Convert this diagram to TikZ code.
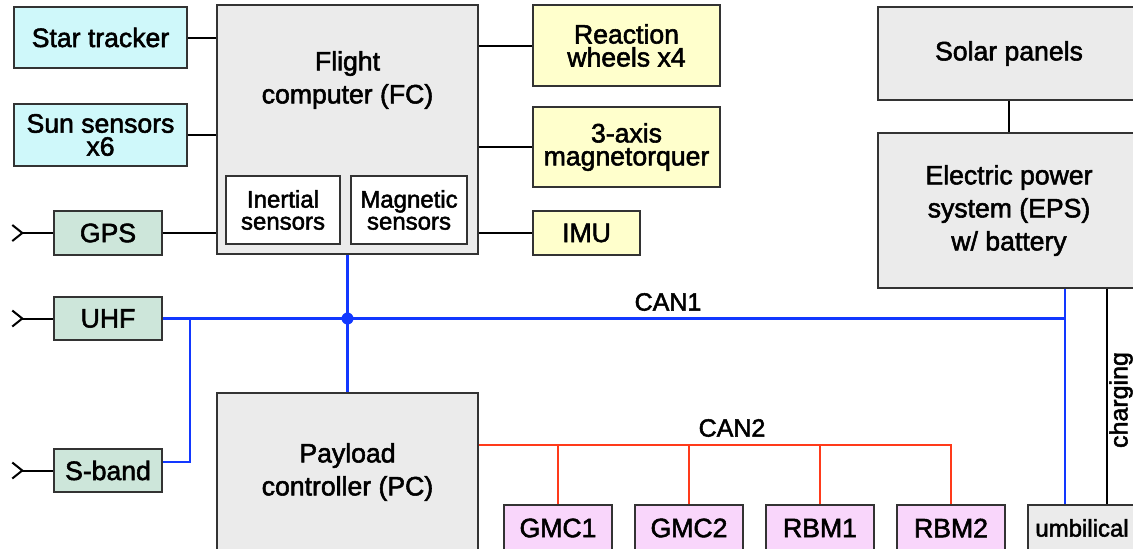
\documentclass[tikz,border=0pt]{standalone}
\usepackage{fontspec}
\setmainfont{Liberation Sans}[FakeBold=2]
\usepackage{xcolor}
\usepackage{tikz}
\usetikzlibrary{positioning, arrows.meta, calc}
\definecolor{edge}{HTML}{333333}
\definecolor{unitbg}{HTML}{EBEBEB}
\definecolor{sensorbg}{HTML}{CFF8FA}
\definecolor{radiobg}{HTML}{CDE6DA}
\definecolor{actbg}{HTML}{FFFFCC}
\definecolor{payloadbg}{HTML}{F9D6FB}
\definecolor{canone}{HTML}{1238FF}
\definecolor{cantwo}{HTML}{FF3A1A}
\tikzset{
  box/.style 2 args={
    draw=edge,
    line width=0.7pt,
    fill=unitbg,
    minimum width=#1*0.5pt,
    minimum height=#2*0.5pt,
    inner sep=0pt,
    align=center,
    font=\fontsize{13.3}{16.5}\selectfont
  },
  boxtext/.style={align=center, inner sep=0pt, font=\fontsize{13.3}{16.5}\selectfont},
  tight/.style={font=\fontsize{13.3}{11.5}\selectfont},
  smalltext/.style={font=\fontsize{12}{11}\selectfont},
  sensor/.style={fill=sensorbg},
  radio/.style={fill=radiobg},
  actuator/.style={fill=actbg},
  payload/.style={fill=payloadbg},
  inside/.style={fill=white, smalltext},
  wire/.style={line width=1pt, black},
  antenna/.style={wire, {Straight Barb[reversed, length=5pt, width=8pt, line width=1pt]}-},
  can1/.style={line width=1.3pt, color=canone},
  can2/.style={line width=1.3pt, color=cantwo},
  buslabel/.style={inner sep=0pt, font=\fontsize{12.5}{14}\selectfont}
}
\begin{document}
\begin{tikzpicture}[x=0.5pt, y=-0.5pt]
  \useasboundingbox (0,0) rectangle (1133,548);
  \clip (0,0) rectangle (1133,548);

  % attitude sensors and radios
  \node[box={173}{61}, sensor] (star) at (100.5,37.5) {Star tracker};
  \node[box={173}{62}, sensor, tight] (sun) at (100.5,135) {Sun sensors\\x6};
  \node[box={108}{44}, radio] (gps) at (108,233) {GPS};
  \node[box={108}{43}, radio] (uhf) at (108,318.5) {UHF};
  \node[box={108}{43}, radio] (sband) at (108,470.5) {S-band};

  % flight computer
  \node[box={261}{249}] (fc) at (347.5,129.5) {};
  \node[boxtext] (fctext) at (347.5,80) {Flight\\computer (FC)};
  \node[box={114}{68}, inside] (inertial) at (283,210) {Inertial\\sensors};
  \node[box={116}{68}, inside] (magnetic) at (409,210) {Magnetic\\sensors};

  % actuators
  \node[box={187}{81}, actuator, tight] (rw) at (626.5,45.5) {Reaction\\wheels x4};
  \node[box={187}{80}, actuator, tight] (mtq) at (626.5,147) {3-axis\\magnetorquer};
  \node[box={107}{44}, actuator] (imu) at (586.5,233) {IMU};

  % power
  \node[box={262}{93}] (solar) at (1009,53.5) {Solar panels};
  \node[box={262}{155}] (eps) at (1009,210.5) {Electric power\\system (EPS)\\w/ battery};

  % payload
  \node[box={261}{158}] (pc) at (347.5,472) {Payload\\controller (PC)};
  \node[box={108}{46}, payload] (gmc1) at (558,528) {GMC1};
  \node[box={108}{46}, payload, right=10.8pt of gmc1] (gmc2) {GMC2};
  \node[box={108}{46}, payload, right=10.8pt of gmc2] (rbm1) {RBM1};
  \node[box={108}{46}, payload, right=10.8pt of rbm1] (rbm2) {RBM2};
  \node[box={108}{46}, smalltext] (umb) at (1082,528) {umbilical};

  \draw[wire] (star.east) -- (star.east -| fc.west);
  \draw[wire] (sun.east) -- (sun.east -| fc.west);
  \draw[wire] (gps.east) -- (gps.east -| fc.west);
  \draw[wire] (fc.east |- rw.west) -- (rw.west);
  \draw[wire] (fc.east |- mtq.west) -- (mtq.west);
  \draw[wire] (fc.east |- imu.west) -- (imu.west);
  \draw[wire] (solar) -- (eps);

  \foreach \r in {gps, uhf, sband} {
    \coordinate[left=21pt of \r] (\r ant);
    \draw[antenna] (\r ant) -- (\r.west);
  }

  % CAN1 bus
  \coordinate (can1e) at (1065,318.5);
  \coordinate (can1s) at (190,462);
  \draw[can1] (uhf.east) -- (can1e);
  \draw[can1] (can1e |- eps.south) -- (can1e |- umb.north);
  \draw[can1] (uhf.east -| can1s) -- (can1s) -- (can1s -| sband.east);
  \draw[can1] (fc.south) -- (pc.north);
  \fill[canone] (fc.south |- uhf.east) circle (3pt);
  \node[buslabel] (can1text) at (668,302) {CAN1};

  % CAN2 bus
  \coordinate (can2w) at (pc.east |- 0,445);
  \draw[can2] (can2w) -| (rbm2.north);
  \foreach \n in {gmc1, gmc2, rbm1}
    \draw[can2] (\n.north) -- (\n.north |- can2w);
  \node[buslabel] (can2text) at (732,428) {CAN2};

  % charging line
  \coordinate (chg) at (1107,400);
  \draw[wire] (chg |- eps.south) -- (chg |- umb.north);
  \node[buslabel, rotate=90] (chgtext) at (1121,400) {charging};
\end{tikzpicture}
\end{document}
